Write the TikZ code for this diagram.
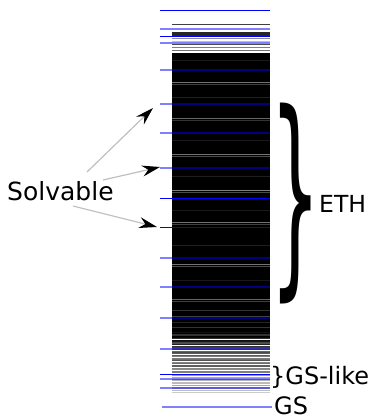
\documentclass[tikz,border=0pt]{standalone}
\usepackage{fontspec}
\setmainfont{DejaVu Sans}
\usetikzlibrary{arrows.meta}
\begin{document}
\begin{tikzpicture}[x=1pt,y=-1pt,
  bluelevel/.style={blue, line width=1pt},
  softlevel/.style={blue, line width=2pt, draw opacity=0.5},
  solarrow/.style={draw=gray!50, line width=1.2pt,
    -{Stealth[color=black,length=18pt,width=11pt,inset=6pt]}},
  lbl/.style={inner sep=0pt, font=\fontsize{24}{24}\selectfont, anchor=base west}]
\useasboundingbox (0,0) rectangle (377,418);

% ---- spectrum: dense bulk ----
\fill[black] (172,52.5) rectangle (270,331);
% texture inside the bulk (value = share of white)
\foreach \y/\s/\w in {82.5/45/0.8, 84.3/25/0.6, 118/40/0.8, 119.8/20/0.6,
    154/45/0.7, 156/30/0.6, 190.5/50/0.8, 192.5/30/0.6, 222/45/0.7, 224/25/0.6,
    264/45/0.8, 266/30/0.6, 299/40/0.8, 301/25/0.6, 310/20/0.6, 316/25/0.6,
    60/10/0.6, 97/12/0.6, 140/10/0.6, 176/12/0.6, 210/10/0.6, 245/12/0.6, 280/10/0.6,
    322/15/0.6, 327/20/0.6}
  \draw[white!\s!black, line width=\w pt] (172,\y) -- (270,\y);

% ---- upper tail ----
\draw[black!75, line width=0.9pt] (172,24) -- (270,24);
\fill[black!85] (172,32) rectangle (270,37);
\foreach \y/\s/\w in {38.5/45/1.2, 41/25/1, 44.5/70/1.2, 47.3/50/1, 50.2/55/1.2}
  \draw[black!\s, line width=\w pt] (172,\y) -- (270,\y);

% ---- lower tail ----
\pgfmathsetseed{12}
\foreach \i in {0,...,46} {
  \pgfmathsetmacro\yy{331+61*(\i/46)^1.25}
  \pgfmathsetmacro\sh{max(20,min(100,112-\i*1.6-25*rnd))}
  \draw[black!\sh, line width=1pt] (172,\yy) -- (270,\yy);
}

% ---- solvable levels ----
\foreach \y in {10.5,36.5,198.5,227.5,374.5}
  \draw[bluelevel] (160,\y) -- (270,\y);
\foreach \y in {29,43,70,104,133,168,258,287,318,349,379,388}
  \draw[softlevel] (160,\y) -- (270,\y);
\draw[softlevel] (162,407) coordinate (gsl) -- (272,407) coordinate (gsr);

% ---- labels ----
\node[lbl, font=\fontsize{25}{25}\selectfont] (solv) at (7,200) {Solvable};
\node[lbl, font=\fontsize{23.5}{23.5}\selectfont] (eth) at (319,212) {ETH};
\node[lbl] (gslike) at (270,384) {\}GS-like};
\node[lbl, text depth=0pt] (gs) at (274,414) {GS};
\node[inner sep=0pt] (ethbrace) at (296,204)
  {\scalebox{1.2}[3.3]{\fontsize{66}{66}\selectfont\}}};

% ---- arrows ----
\coordinate (s1) at (87,172);  \coordinate (t1) at (153,108);
\coordinate (s2) at (103,180); \coordinate (t2) at (160,167);
\coordinate (s3) at (73,206);  \coordinate (t3) at (157,227);
\draw[solarrow] (s1) -- (t1);
\draw[solarrow] (s2) -- (t2);
\draw[solarrow] (s3) -- (t3);
\end{tikzpicture}
\end{document}
